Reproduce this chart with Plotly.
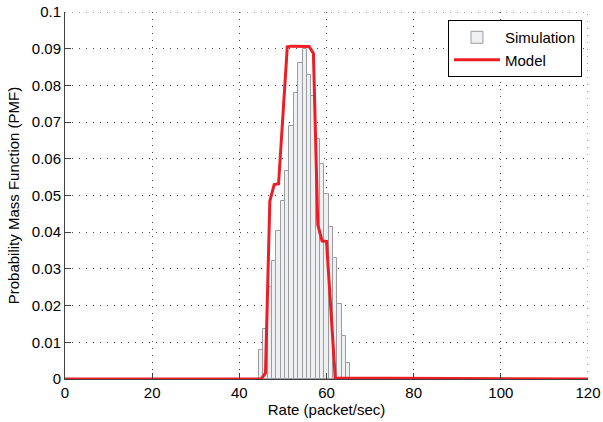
import plotly.graph_objects as go

# Simulation histogram (bin centers, PMF)
sim_rate = list(range(45, 66))
sim_pmf = [0.0080, 0.0135, 0.0252, 0.0322, 0.0404, 0.0485, 0.0566, 0.0690,
           0.0780, 0.0862, 0.0900, 0.0827, 0.0771, 0.0655, 0.0585, 0.0503,
           0.0413, 0.0331, 0.0205, 0.0117, 0.0044]

# Model curve
model_rate = [0, 45, 46, 47, 48, 49, 50, 51, 52, 53, 54, 55, 56, 57, 58, 59, 60, 61, 62, 120]
model_pmf = [0, 0, 0.0016, 0.0485, 0.0530, 0.0532, 0.0718, 0.0905, 0.0907, 0.0907,
             0.0907, 0.0907, 0.0906, 0.0887, 0.0420, 0.0376, 0.0375, 0.0190, 0.0003, 0]

x_ticks = [0, 20, 40, 60, 80, 100, 120]
y_ticks = [0, 0.01, 0.02, 0.03, 0.04, 0.05, 0.06, 0.07, 0.08, 0.09, 0.1]
y_tick_labels = ["0", "0.01", "0.02", "0.03", "0.04", "0.05", "0.06", "0.07", "0.08", "0.09", "0.1"]

fig = go.Figure()
fig.add_trace(go.Bar(
    x=sim_rate, y=sim_pmf, width=1, name="Simulation",
    marker=dict(color="#eff0f2", line=dict(color="#9a9ca0", width=1)),
))
fig.add_trace(go.Scatter(
    x=model_rate, y=model_pmf, mode="lines", name="Model",
    line=dict(color="#ee1c25", width=3),
))

# dotted grid lines at the far ends of the axes (plotly skips them)
grid_dash = "1px,6px"
fig.add_hline(y=y_ticks[-1], line=dict(color="#444444", width=1, dash=grid_dash), layer="below")
fig.add_vline(x=x_ticks[-1], line=dict(color="#444444", width=1, dash=grid_dash), layer="below")

font = dict(family="Liberation Sans, Arial, Helvetica, sans-serif", size=15, color="#000000")

axis_common = dict(
    showline=True, linecolor="#404040", linewidth=1, mirror=False,
    ticks="inside", ticklen=6, tickcolor="#404040",
    showgrid=True, gridcolor="#444444", gridwidth=1, griddash=grid_dash,
    zeroline=False, automargin=False,
    tickfont=dict(size=15),
)

fig.update_layout(
    width=603, height=422,
    margin=dict(l=65, r=15, t=12, b=43, autoexpand=False),
    paper_bgcolor="white", plot_bgcolor="white",
    font=font,
    showlegend=True,
    bargap=0,
    legend=dict(
        x=0.9885, y=0.978, xanchor="right", yanchor="top",
        bordercolor="#000000", borderwidth=1, bgcolor="white",
        font=dict(size=15), tracegroupgap=0, itemwidth=46,
    ),
    xaxis=dict(
        range=[0, 120], tickvals=x_ticks, ticktext=[str(v) for v in x_ticks],
        title=dict(text="Rate (packet/sec)", standoff=2, font=dict(size=15)),
        **axis_common,
    ),
    yaxis=dict(
        range=[0, 0.1], tickvals=y_ticks, ticktext=y_tick_labels,
        title=dict(text="Probability Mass Function (PMF)", standoff=8, font=dict(size=15)),
        **axis_common,
    ),
)

fig.write_html(
    "out.html",
    config={"displayModeBar": False},
    post_script="document.body.style.margin='0';document.body.style.overflow='hidden';",
)
